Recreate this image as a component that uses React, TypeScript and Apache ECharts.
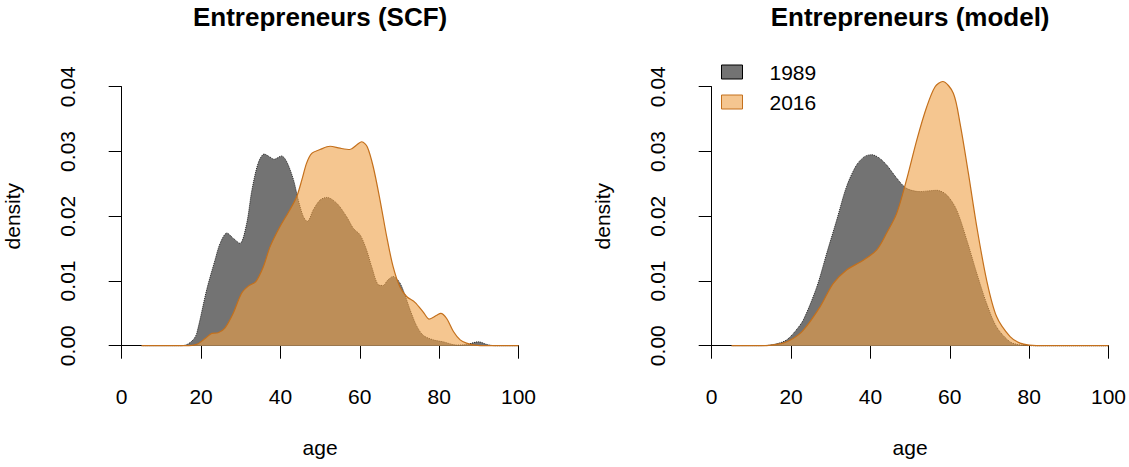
import React, { useEffect, useRef } from "react";
import * as echarts from "echarts";

// ---- Data ----
const xTicks = [0, 20, 40, 60, 80, 100];
const yTicks = [0, 0.01, 0.02, 0.03, 0.04];
const years = ["1989", "2016"];

// Left panel: Entrepreneurs (SCF)
const scf1989Age = [5, 15, 16.5, 18, 18.9, 21.4, 23.5, 24.8, 26.5, 28.1, 29.8, 31.5, 32.8, 34.4, 35.9, 37.2, 38.4, 40.3, 41.6, 43.3, 44.5, 45.8, 46.8, 48.3, 50, 51.7, 54.2, 56.7, 58.4, 60.1, 61.7, 63, 64.7, 65.9, 67, 68.4, 70.1, 71.4, 72.7, 74.3, 76, 78.5, 81, 84.4, 87, 89.9, 92, 94, 100];
const scf1989Dens = [0, 0, 0.0002, 0.0009, 0.0019, 0.0086, 0.0132, 0.0158, 0.0174, 0.0166, 0.0158, 0.0189, 0.024, 0.0282, 0.0296, 0.0292, 0.0288, 0.0293, 0.0284, 0.0256, 0.0225, 0.0199, 0.0192, 0.021, 0.0225, 0.0229, 0.022, 0.0199, 0.0181, 0.0171, 0.0148, 0.0122, 0.0094, 0.0093, 0.0101, 0.0107, 0.0097, 0.0078, 0.0055, 0.0031, 0.0016, 0.0009, 0.0006, 0.0001, 0.0002, 0.0006, 0.0002, 0, 0];
const scf2016Age = [5, 16, 18.9, 21, 22.7, 24.3, 26, 28.1, 30.2, 31.9, 33.8, 35.7, 37.4, 39.9, 42.4, 44.1, 45.4, 46.6, 47.9, 50, 52.5, 55, 57.5, 59.2, 60.5, 61.9, 63.4, 65.1, 66.8, 68.4, 70.1, 71.8, 73.9, 76, 77.5, 79.4, 80.4, 81.9, 83.6, 85.3, 86.9, 89, 92, 100];
const scf2016Dens = [0, 0, 0.0002, 0.0011, 0.0019, 0.002, 0.0027, 0.005, 0.0081, 0.0092, 0.0099, 0.0122, 0.0153, 0.0184, 0.021, 0.023, 0.0256, 0.0282, 0.0297, 0.0303, 0.0308, 0.0305, 0.0303, 0.031, 0.0315, 0.0307, 0.0276, 0.0225, 0.0168, 0.0122, 0.0091, 0.0076, 0.0067, 0.0052, 0.0041, 0.0047, 0.005, 0.0042, 0.0022, 0.0009, 0.0004, 0.0001, 0, 0];

// Right panel: Entrepreneurs (model)
const model1989Age = [5, 12, 14.7, 17, 18.9, 21, 23.1, 26.5, 29, 31.5, 34, 36.5, 38.5, 40.3, 42.2, 44.1, 46.6, 49.1, 52.5, 54.5, 56.7, 59.2, 61.7, 64.3, 66.8, 69.3, 71.8, 75.2, 78, 82, 100];
const model1989Dens = [0, 0, 0.0001, 0.0004, 0.0009, 0.0022, 0.004, 0.0091, 0.0143, 0.0194, 0.0246, 0.0279, 0.0292, 0.0295, 0.029, 0.0279, 0.0259, 0.0243, 0.0238, 0.0239, 0.024, 0.0233, 0.021, 0.0163, 0.0112, 0.0065, 0.0029, 0.0006, 0.0001, 0, 0];
const model2016Age = [5, 12, 15, 18, 20.5, 23.1, 27.3, 30.6, 34, 38.2, 41.6, 44.1, 46.6, 49.1, 51.7, 54.2, 56.3, 58.2, 60.9, 62.6, 64.7, 66.8, 69.3, 71.8, 75.2, 77.7, 80, 84, 100];
const model2016Dens = [0, 0, 0.0001, 0.0004, 0.0011, 0.0024, 0.006, 0.0096, 0.0117, 0.0132, 0.0148, 0.0174, 0.0204, 0.0256, 0.0318, 0.0369, 0.04, 0.0408, 0.039, 0.0343, 0.0266, 0.0184, 0.0101, 0.0045, 0.0014, 0.0004, 0.0001, 0, 0];

const titles = ["Entrepreneurs (SCF)", "Entrepreneurs (model)"];

const FONT = "'Liberation Sans', Arial, Helvetica, sans-serif";
const GRAY_FILL = "#737373";
const ORANGE_FILL = "rgba(238,160,70,0.6)";
const ORANGE_LINE = "#c4701c";

const pairs = (a: number[], d: number[]) => a.map((x, i) => [x, d[i]]);

export default function App() {
  const ref = useRef<HTMLDivElement>(null);
  useEffect(() => {
    if (!ref.current) return;
    const chart = echarts.init(ref.current, null, { renderer: "svg" });
    const gridLefts = [121.7, 711.7];
    const centers = [320.1, 910.1];

    const xAxes = gridLefts.map((_, i) => ({
      type: "value",
      gridIndex: i,
      min: xTicks[0],
      max: xTicks[xTicks.length - 1],
      interval: 20,
      offset: 13,
      name: "age",
      nameLocation: "middle",
      nameGap: 78,
      nameTextStyle: { fontSize: 21, color: "#000", fontFamily: FONT },
      axisLine: { show: true, lineStyle: { color: "#000", width: 1 } },
      axisTick: { show: true, length: 13, lineStyle: { color: "#000", width: 1 } },
      axisLabel: { fontSize: 21, color: "#000", fontFamily: FONT, margin: 27, formatter: (v: number) => String(v) },
      splitLine: { show: false },
    }));
    const yAxes = gridLefts.map((_, i) => ({
      type: "value",
      gridIndex: i,
      min: yTicks[0],
      max: yTicks[yTicks.length - 1],
      interval: 0.01,
      offset: 16,
      name: "density",
      nameLocation: "middle",
      nameRotate: 90,
      nameGap: 83,
      nameTextStyle: { fontSize: 21, color: "#000", fontFamily: FONT },
      axisLine: { show: true, lineStyle: { color: "#000", width: 1 } },
      axisTick: { show: true, length: 13, lineStyle: { color: "#000", width: 1 } },
      axisLabel: { fontSize: 21, color: "#000", fontFamily: FONT, margin: 28, rotate: 90, formatter: (v: number) => v.toFixed(2) },
      splitLine: { show: false },
    }));

    const graySeries = (i: number, a: number[], d: number[]) => ({
      type: "line",
      name: years[0],
      xAxisIndex: i,
      yAxisIndex: i,
      data: pairs(a, d),
      smooth: 0.3,
      showSymbol: false,
      clip: false,
      lineStyle: { color: "#222", width: 1, type: "dotted" },
      itemStyle: { color: GRAY_FILL },
      areaStyle: { color: GRAY_FILL, opacity: 1 },
      z: 2,
    });
    const orangeSeries = (i: number, a: number[], d: number[]) => ({
      type: "line",
      name: years[1],
      xAxisIndex: i,
      yAxisIndex: i,
      data: pairs(a, d),
      smooth: 0.3,
      showSymbol: false,
      clip: false,
      lineStyle: { color: ORANGE_LINE, width: 1.2 },
      itemStyle: { color: ORANGE_FILL },
      areaStyle: { color: ORANGE_FILL, opacity: 1 },
      z: 3,
    });

    chart.setOption({
      animation: false,
      backgroundColor: "#fff",
      textStyle: { fontFamily: FONT },
      title: titles.map((t, i) => ({
        text: t,
        left: centers[i],
        top: 4,
        padding: 0,
        textAlign: "center",
        textStyle: { fontSize: 26, fontWeight: "bold", color: "#000", fontFamily: FONT },
      })),
      legend: {
        data: [
          { name: years[0], itemStyle: { color: GRAY_FILL, borderColor: "#000", borderWidth: 1 } },
          { name: years[1], itemStyle: { color: "#F5C690", borderColor: ORANGE_LINE, borderWidth: 1 } },
        ],
        orient: "vertical",
        left: 721,
        top: 61,
        padding: 0,
        icon: "rect",
        itemWidth: 21,
        itemHeight: 14,
        itemGap: 8,
        selectedMode: false,
        textStyle: { fontSize: 21, color: "#000", fontFamily: FONT, lineHeight: 22, padding: [0, 0, 0, 22] },
      },
      grid: gridLefts.map((l) => ({ left: l, top: 86.7, width: 396.8, height: 259, containLabel: false })),
      xAxis: xAxes,
      yAxis: yAxes,
      series: [
        graySeries(0, scf1989Age, scf1989Dens),
        orangeSeries(0, scf2016Age, scf2016Dens),
        graySeries(1, model1989Age, model1989Dens),
        orangeSeries(1, model2016Age, model2016Dens),
      ],
    });
    return () => chart.dispose();
  }, []);
  return <div ref={ref} style={{ position: "fixed", left: 0, top: 0, width: 1129, height: 467 }} />;
}
